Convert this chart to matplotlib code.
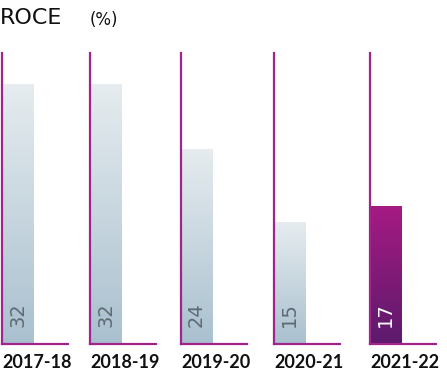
import matplotlib.pyplot as plt
import numpy as np
from matplotlib.colors import LinearSegmentedColormap

# datos
years = ['2017-18', '2018-19', '2019-20', '2020-21', '2021-22']
roce = [32, 32, 24, 15, 17]
highlight = [False, False, False, False, True]

W, H = 447, 378
fig = plt.figure(figsize=(W / 100, H / 100), dpi=100)
plt.rcParams['font.family'] = ['DejaVu Sans']

axis_col = '#a0248a'
grey_cmap = LinearSegmentedColormap.from_list('g', ['#a9c0cf', '#e6ecef'])
purple_cmap = LinearSegmentedColormap.from_list('p', ['#5c1a6c', '#a61b83'])

lefts = [2, 90, 181, 274, 370]
base_y = 344
top_y = 53
panel_w = 66
ymax = 35.8
bar_w = 0.47

for i, (yr, val) in enumerate(zip(years, roce)):
    ax = fig.add_axes([lefts[i] / W, (H - base_y) / H, panel_w / W, (base_y - top_y) / H])
    ax.set_xlim(0, 1)
    ax.set_ylim(0, ymax)
    for s in ['top', 'right']:
        ax.spines[s].set_visible(False)
    for s in ['left', 'bottom']:
        ax.spines[s].set_color(axis_col)
        ax.spines[s].set_linewidth(1.6)
    ax.set_xticks([])
    ax.set_yticks([])
    ax.patch.set_alpha(0)

    bar = ax.bar(0, val, width=bar_w, align='edge', color='none', edgecolor='none')[0]
    grad = np.linspace(0, 1, 256).reshape(-1, 1)
    cmap = purple_cmap if highlight[i] else grey_cmap
    im = ax.imshow(grad, cmap=cmap, origin='lower', aspect='auto',
                   extent=[0, bar_w, 0, val], zorder=1)
    im.set_clip_path(bar)
    ax.set_xlim(0, 1)
    ax.set_ylim(0, ymax)

    ax.text(bar_w / 2, 2.1, str(val), rotation=90, ha='center', va='bottom',
            fontsize=14, color='white' if highlight[i] else '#5f6a72', zorder=3)
    ax.text(0.53, -18 / (base_y - top_y), yr, transform=ax.transAxes,
            ha='center', va='center', fontsize=13, fontweight='bold',
            family=['Lato', 'DejaVu Sans'], color='#111111')

fig.text(0 / W, 1 - 18 / H, 'ROCE', fontsize=16, ha='left', va='center', color='#111111')
fig.text(90 / W, 1 - 20 / H, '(%)', fontsize=12, ha='left', va='center', color='#111111')

fig.savefig('out.png', dpi=100)
